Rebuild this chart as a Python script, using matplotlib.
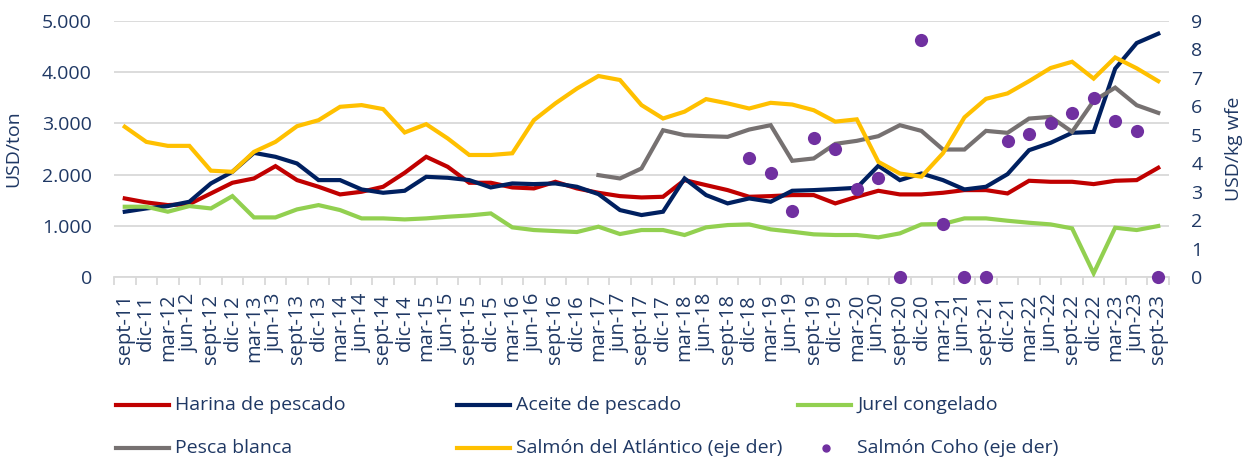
import numpy as np
import matplotlib
matplotlib.use("Agg")
import matplotlib.pyplot as plt
from matplotlib.ticker import FuncFormatter, FixedLocator
from matplotlib.lines import Line2D

plt.rcParams['font.family'] = ['Open Sans', 'DejaVu Sans']

categories = [
    "sept-11", "dic-11", "mar-12", "jun-12", "sept-12", "dic-12", "mar-13", "jun-13",
    "sept-13", "dic-13", "mar-14", "jun-14", "sept-14", "dic-14", "mar-15", "jun-15",
    "sept-15", "dic-15", "mar-16", "jun-16", "sept-16", "dic-16", "mar-17", "jun-17",
    "sept-17", "dic-17", "mar-18", "jun-18", "sept-18", "dic-18", "mar-19", "jun-19",
    "sept-19", "dic-19", "mar-20", "jun-20", "sept-20", "dic-20", "mar-21", "jun-21",
    "sept-21", "dic-21", "mar-22", "jun-22", "sept-22", "dic-22", "mar-23", "jun-23",
    "sept-23",
]

harina = [1537, 1459, 1407, 1427, 1634, 1842, 1926, 2166, 1894, 1764, 1615, 1667, 1764,
          2036, 2348, 2153, 1842, 1842, 1751, 1732, 1861, 1732, 1647, 1582, 1556, 1569,
          1894, 1796, 1699, 1569, 1582, 1602, 1602, 1440, 1569, 1686, 1615, 1615, 1647,
          1699, 1699, 1634, 1881, 1861, 1861, 1816, 1881, 1894, 2134]

aceite = [1278, 1342, 1388, 1472, 1829, 2056, 2425, 2348, 2218, 1894, 1894, 1712, 1647,
          1686, 1958, 1939, 1894, 1751, 1829, 1816, 1829, 1764, 1621, 1310, 1213, 1278,
          1926, 1602, 1440, 1537, 1472, 1686, 1699, 1720, 1744, 2173, 1894, 2023, 1894,
          1712, 1764, 2010, 2477, 2620, 2815, 2834, 4066, 4565, 4747]

jurel = [1375, 1375, 1278, 1388, 1342, 1582, 1167, 1167, 1323, 1407, 1310, 1148, 1148,
         1128, 1148, 1180, 1205, 1245, 973, 921, 901, 882, 986, 843, 921, 921, 824, 973,
         1018, 1031, 934, 888, 837, 824, 824, 778, 856, 1031, 1038, 1148, 1148, 1102,
         1063, 1031, 953, 78, 966, 921, 999]

nan = np.nan
pesca_blanca = [nan] * 22 + [1991, 1926, 2121, 2866, 2769, 2750, 2737, 2879, 2964, 2270,
                             2316, 2600, 2659, 2750, 2964, 2853, 2490, 2490, 2853, 2815,
                             3093, 3126, 2834, 3437, 3696, 3353, 3204]

salmon_atlantico = [5.28, 4.75, 4.61, 4.61, 3.74, 3.70, 4.40, 4.75, 5.30, 5.51, 5.98,
                    6.04, 5.90, 5.08, 5.37, 4.87, 4.29, 4.29, 4.35, 5.51, 6.10, 6.62,
                    7.06, 6.92, 6.04, 5.57, 5.81, 6.25, 6.10, 5.92, 6.12, 6.06, 5.86,
                    5.46, 5.54, 4.05, 3.64, 3.53, 4.35, 5.61, 6.26, 6.45, 6.88, 7.34,
                    7.56, 6.97, 7.71, 7.33, 6.88]

salmon_coho = [nan] * 29 + [4.19, 3.67, 2.34, 4.87, 4.50, 3.09, 3.47, 0.0, 8.34, 1.87,
                            0.0, 0.0, 4.79, 5.01, 5.42, 5.77, 6.30, 5.49, 5.13, 0.0]

left_ticks = [0, 1000, 2000, 3000, 4000, 5000]
right_ticks = [0, 1, 2, 3, 4, 5, 6, 7, 8, 9]

TXT = '#1F3864'
GRID = '#D9D9D9'
C_HAR = '#C00000'
C_ACE = '#002060'
C_JUR = '#92D050'
C_PES = '#767171'
C_SAL = '#FFC000'
C_COH = '#7030A0'

W, H = 1243, 462
fig = plt.figure(figsize=(W / 100, H / 100), dpi=100)
x0, x1, ytop, ybot = 114, 1169, 20.7, 277.3
ax = fig.add_axes([x0 / W, 1 - ybot / H, (x1 - x0) / W, (ybot - ytop) / H])
ax2 = ax.twinx()

x = np.arange(len(categories))
lw = 3.0
ax.plot(x, harina, color=C_HAR, lw=lw, zorder=3, solid_joinstyle='miter')
ax.plot(x, aceite, color=C_ACE, lw=lw, zorder=4, solid_joinstyle='miter')
ax.plot(x, jurel, color=C_JUR, lw=lw, zorder=5, solid_joinstyle='miter')
ax.plot(x, pesca_blanca, color=C_PES, lw=lw, zorder=6, solid_joinstyle='miter')
ax2.plot(x, salmon_atlantico, color=C_SAL, lw=lw, zorder=3, solid_joinstyle='miter')
ax2.scatter(x, salmon_coho, s=90, color=C_COH, zorder=5, clip_on=False, linewidths=0)

ax.set_xlim(-0.5, len(categories) - 0.5)
ax.set_ylim(0, 5000)
ax2.set_ylim(0, 9)
ax.set_yticks(left_ticks)
ax2.set_yticks(right_ticks)
ax.yaxis.set_major_formatter(FuncFormatter(lambda v, p: f"{v:,.0f}".replace(",", ".")))
ax.grid(axis='y', color=GRID, lw=1.3)
ax.set_axisbelow(True)

ax.set_xticks(x)
ax.set_xticklabels(categories, rotation=90, fontsize=14.5, color=TXT)
ax.xaxis.set_minor_locator(FixedLocator(np.arange(-0.5, len(categories), 1)))
ax.tick_params(axis='x', which='major', length=0, pad=12)
ax.tick_params(axis='x', which='minor', length=6, color=GRID, width=1.3)
ax.tick_params(axis='y', length=0, pad=16, labelsize=14, labelcolor=TXT)
ax2.tick_params(axis='y', length=0, pad=16, labelsize=14, labelcolor=TXT)

for a in (ax, ax2):
    for s in ('top', 'left', 'right'):
        a.spines[s].set_visible(False)
    a.spines['bottom'].set_color(GRID)
    a.spines['bottom'].set_linewidth(1.3)
ax2.spines['bottom'].set_visible(False)

ax.set_ylabel("USD/ton", fontsize=14, color=TXT)
ax.yaxis.set_label_coords((22 - x0) / (x1 - x0), 0.5)
ax2.set_ylabel("USD/kg wfe", fontsize=14, color=TXT, rotation=90)
ax2.yaxis.set_label_coords((1225 - x0) / (x1 - x0), 0.5)

# legend drawn manually in figure pixel coordinates
legend_items = [
    ("Harina de pescado", C_HAR, 'line', 116, 405),
    ("Aceite de pescado", C_ACE, 'line', 457, 405),
    ("Jurel congelado", C_JUR, 'line', 798, 405),
    ("Pesca blanca", C_PES, 'line', 116, 448),
    ("Salmón del Atlántico (eje der)", C_SAL, 'line', 457, 448),
    ("Salmón Coho (eje der)", C_COH, 'dot', 798, 448),
]
for label, col, kind, lx, ly in legend_items:
    yy = 1 - ly / H
    if kind == 'line':
        fig.add_artist(Line2D([lx / W, (lx + 53) / W], [yy, yy], color=col, lw=lw,
                              transform=fig.transFigure))
    else:
        fig.add_artist(Line2D([(lx + 28) / W], [yy], marker='o', markersize=5,
                              color=col, lw=0, transform=fig.transFigure))
    fig.text((lx + 59) / W, yy, label, fontsize=14, color=TXT, va='center', ha='left')

fig.savefig("out.png", dpi=100)
